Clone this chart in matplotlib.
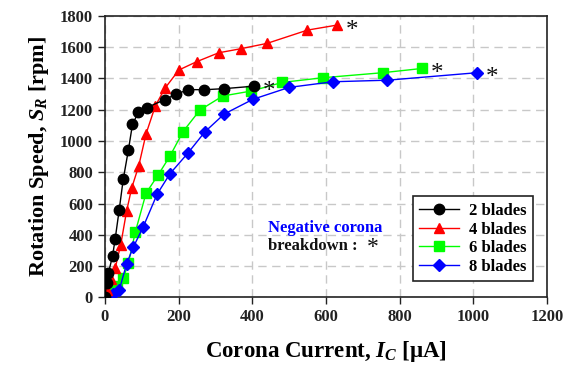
import matplotlib
matplotlib.use('Agg')
import matplotlib.pyplot as plt

plt.rcParams['font.family'] = 'Liberation Serif'
plt.rcParams['font.weight'] = 'bold'
plt.rcParams['mathtext.fontset'] = 'custom'
plt.rcParams['mathtext.rm'] = 'Liberation Serif:bold'
plt.rcParams['mathtext.it'] = 'Liberation Serif:italic:bold'

# corona current [uA] and rotation speed [rpm] per blade count
i2 = [0, 5, 10, 21, 28, 39, 50, 64, 75, 91, 114, 162, 193, 227, 270, 324, 406]
s2 = [0, 94, 158, 265, 372, 559, 755, 942, 1105, 1183, 1213, 1263, 1298, 1328, 1327, 1334, 1350]

i4 = [0, 6, 17, 28, 43, 59, 73, 92, 112, 137, 163, 201, 249, 309, 369, 440, 550, 630]
s4 = [0, 50, 118, 186, 335, 550, 700, 840, 1046, 1223, 1336, 1453, 1506, 1563, 1589, 1623, 1708, 1740]

i6 = [0, 14, 32, 50, 64, 83, 112, 144, 177, 212, 258, 320, 398, 482, 593, 755, 861]
s6 = [0, 37, 73, 122, 220, 420, 667, 780, 904, 1059, 1197, 1287, 1319, 1374, 1404, 1436, 1463]

i8 = [0, 5, 23, 39, 59, 77, 104, 142, 177, 225, 272, 324, 402, 500, 619, 767, 1011]
s8 = [0, 5, 22, 46, 214, 320, 450, 660, 791, 921, 1059, 1172, 1266, 1342, 1378, 1388, 1436]

fig = plt.figure(figsize=(5.74, 3.65), dpi=100)
ax = fig.add_axes([0.1826, 0.185, 0.7704, 0.772])

ax.plot(i2, s2, '-o', color='black', mfc='black', mec='black', ms=7.5, lw=1, label='2 blades', zorder=5)
ax.plot(i4, s4, '-^', color='red', mfc='red', mec='red', ms=7.5, lw=1, label='4 blades', zorder=4)
ax.plot(i6, s6, '-s', color='#00ff00', mfc='#00ff00', mec='#00ff00', ms=6.5, lw=1, label='6 blades', zorder=3)
ax.plot(i8, s8, '-D', color='blue', mfc='blue', mec='blue', ms=6.5, lw=1, label='8 blades', zorder=3)

# breakdown markers
for xs, ys in [(i2, s2), (i4, s4), (i6, s6), (i8, s8)]:
    ax.annotate('*', (xs[-1], ys[-1]), xytext=(6, -4), textcoords='offset points',
                fontsize=18, fontweight='normal', ha='left', va='center', color='#111111')

ax.text(443, 445, 'Negative corona', color='blue', fontsize=12, fontweight='bold', va='center')
ax.text(443, 332, 'breakdown :', color='#111111', fontsize=12, fontweight='bold', va='center')
ax.text(712, 318, '*', color='#111111', fontsize=17, fontweight='normal', va='center')

ax.set_xlim(0, 1200)
ax.set_ylim(0, 1800)
ax.set_xticks(range(0, 1201, 200))
ax.set_yticks(range(0, 1801, 200))
ax.grid(True, color='#c8c8c8', linestyle=(0, (6, 4)), linewidth=1)
ax.set_axisbelow(True)
ax.tick_params(labelsize=12, length=5, width=1, colors='#222222')
for lab in ax.get_xticklabels() + ax.get_yticklabels():
    lab.set_fontweight('bold')
for sp in ax.spines.values():
    sp.set_color('#222222')
    sp.set_linewidth(1.2)

ax.set_xlabel(r'Corona Current, $I_C$ [$\mathrm{\mu}$A]', fontsize=16.5, fontweight='bold', labelpad=10)
ax.set_ylabel(r'Rotation Speed, $S_R$ [rpm]', fontsize=16, fontweight='bold', labelpad=6)

leg = ax.legend(loc='lower right', bbox_to_anchor=(0.988, 0.028), fancybox=False, edgecolor='#222222',
                framealpha=1, fontsize=12, handlelength=2.4, handletextpad=0.6,
                borderpad=0.4, labelspacing=0.15)
leg.get_frame().set_linewidth(1.2)

fig.savefig('out.png', dpi=100)
